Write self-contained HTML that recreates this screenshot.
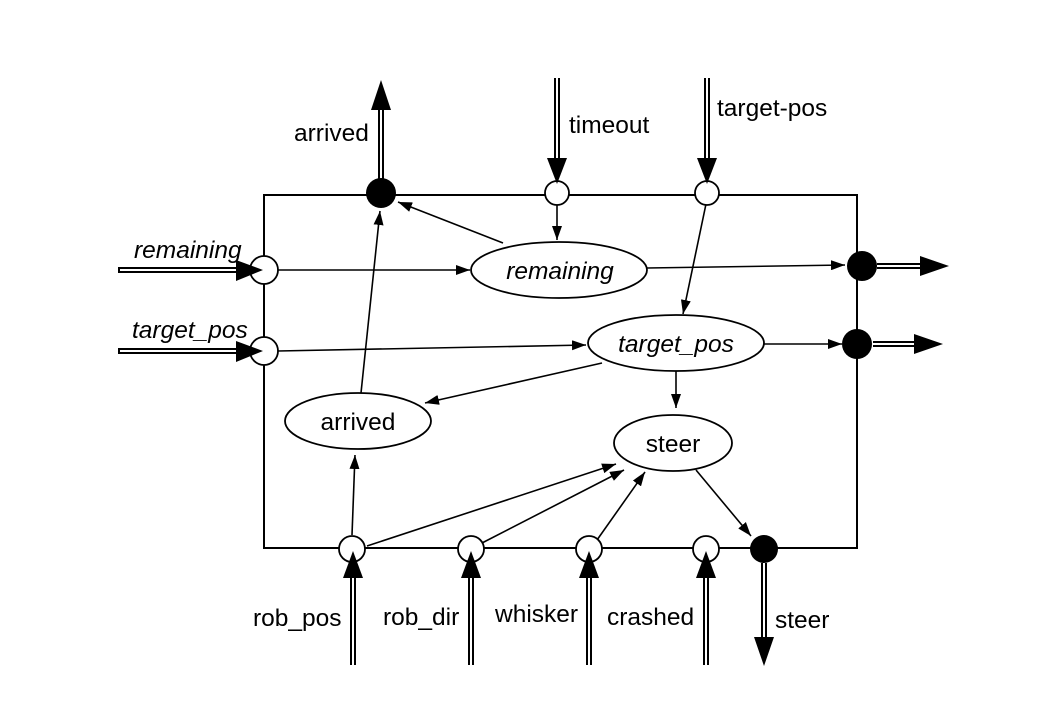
<!DOCTYPE html>
<html><head><style>body{margin:0;background:#fff}</style></head><body>
<svg width="1048" height="708" xmlns="http://www.w3.org/2000/svg" font-family="Liberation Sans, sans-serif" font-size="24.5">
<defs>
<marker id="a" markerWidth="14" markerHeight="10" refX="14" refY="5" orient="auto" markerUnits="userSpaceOnUse" viewBox="0 0 14 10"><path d="M0,0 L14,5 L0,10z"/></marker>
</defs>
<g stroke="#000" fill="none">
<rect x="264" y="195" width="593" height="353" stroke-width="2"/>
<g stroke-width="6">
<line x1="381" y1="180" x2="381" y2="106"/>
<line x1="557" y1="78" x2="557" y2="160"/>
<line x1="707" y1="78" x2="707" y2="160"/>
<line x1="118" y1="270" x2="242" y2="270"/>
<line x1="118" y1="351" x2="242" y2="351"/>
<line x1="877" y1="266" x2="922" y2="266"/>
<line x1="873" y1="344" x2="916" y2="344"/>
<line x1="353" y1="665" x2="353" y2="575"/>
<line x1="471" y1="665" x2="471" y2="575"/>
<line x1="589" y1="665" x2="589" y2="575"/>
<line x1="706" y1="665" x2="706" y2="575"/>
<line x1="764" y1="563" x2="764" y2="640"/>
</g>
<g stroke="#fff" stroke-width="2">
<line x1="381" y1="180" x2="381" y2="106"/>
<line x1="557" y1="78" x2="557" y2="162"/>
<line x1="707" y1="78" x2="707" y2="162"/>
<line x1="120" y1="270" x2="244" y2="270"/>
<line x1="120" y1="351" x2="244" y2="351"/>
<line x1="877" y1="266" x2="924" y2="266"/>
<line x1="873" y1="344" x2="918" y2="344"/>
<line x1="353" y1="665" x2="353" y2="573"/>
<line x1="471" y1="665" x2="471" y2="573"/>
<line x1="589" y1="665" x2="589" y2="573"/>
<line x1="706" y1="665" x2="706" y2="573"/>
<line x1="764" y1="563" x2="764" y2="642"/>
</g>
<g stroke-width="1.6" marker-end="url(#a)">
<line x1="557" y1="204" x2="557" y2="240"/>
<line x1="503" y1="243" x2="398" y2="202"/>
<line x1="361" y1="393" x2="380" y2="211"/>
<line x1="278" y1="270" x2="470" y2="270"/>
<line x1="278" y1="351" x2="586" y2="345"/>
<line x1="647" y1="268" x2="845" y2="265"/>
<line x1="706" y1="204" x2="683" y2="314"/>
<line x1="764" y1="344" x2="842" y2="344"/>
<line x1="602" y1="363" x2="425" y2="403"/>
<line x1="676" y1="371" x2="676" y2="408"/>
<line x1="696" y1="470" x2="751" y2="536"/>
<line x1="352" y1="535" x2="355" y2="455"/>
<line x1="367" y1="546" x2="616" y2="464"/>
<line x1="482" y1="543" x2="624" y2="470"/>
<line x1="597" y1="540" x2="645" y2="472"/>
</g>
<g stroke-width="1.8" fill="#fff">
<ellipse cx="559" cy="270" rx="88" ry="28"/>
<ellipse cx="676" cy="343" rx="88" ry="28"/>
<ellipse cx="358" cy="421" rx="73" ry="28"/>
<ellipse cx="673" cy="443" rx="59" ry="28"/>
</g>
<g stroke-width="1.8" fill="#fff">
<circle cx="557" cy="193" r="12"/>
<circle cx="707" cy="193" r="12"/>
<circle cx="264" cy="270" r="14"/>
<circle cx="264" cy="351" r="14"/>
<circle cx="352" cy="549" r="13"/>
<circle cx="471" cy="549" r="13"/>
<circle cx="589" cy="549" r="13"/>
<circle cx="706" cy="549" r="13"/>
</g>
<g fill="#000" stroke="none">
<circle cx="381" cy="193" r="15"/>
<circle cx="862" cy="266" r="15"/>
<circle cx="857" cy="344" r="15"/>
<circle cx="764" cy="549" r="14"/>
<path d="M381,80 L371,110 L391,110z"/>
<path d="M557,184 L547,158 L567,158z"/>
<path d="M707,184 L697,158 L717,158z"/>
<path d="M263,270 L236,260 L236,281z"/>
<path d="M263,351 L236,341 L236,362z"/>
<path d="M949,266 L920,256 L920,276z"/>
<path d="M943,344 L914,334 L914,354z"/>
<path d="M353,551 L343,578 L363,578z"/>
<path d="M471,551 L461,578 L481,578z"/>
<path d="M589,551 L579,578 L599,578z"/>
<path d="M706,551 L696,578 L716,578z"/>
<path d="M764,666 L754,637 L774,637z"/>
</g>
</g>
<g fill="#000">
<text x="294" y="141">arrived</text>
<text x="569" y="133">timeout</text>
<text x="717" y="116">target-pos</text>
<text x="134" y="258" font-style="italic">remaining</text>
<text x="132" y="338" font-style="italic">target_pos</text>
<text x="560" y="279" font-style="italic" text-anchor="middle">remaining</text>
<text x="676" y="352" font-style="italic" text-anchor="middle">target_pos</text>
<text x="358" y="430" text-anchor="middle">arrived</text>
<text x="673" y="452" text-anchor="middle">steer</text>
<text x="253" y="626">rob_pos</text>
<text x="383" y="625">rob_dir</text>
<text x="495" y="622">whisker</text>
<text x="607" y="625">crashed</text>
<text x="775" y="628">steer</text>
</g>
</svg>
</body></html>
